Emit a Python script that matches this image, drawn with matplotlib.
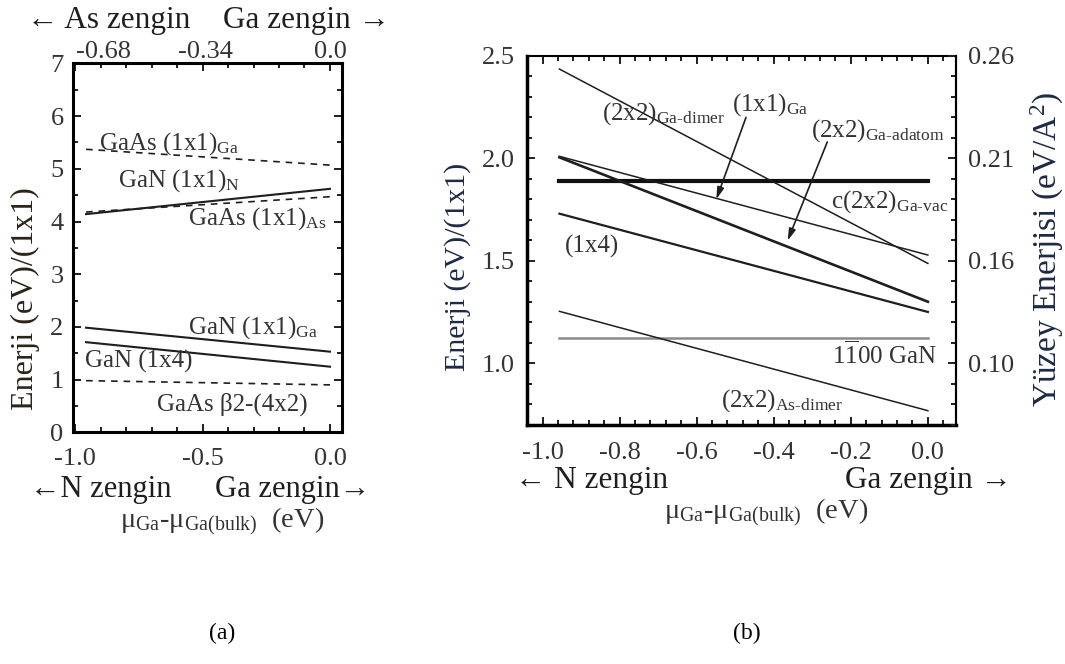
import matplotlib
matplotlib.use('Agg')
import matplotlib.pyplot as plt
from matplotlib.ticker import MultipleLocator

plt.rcParams.update({
    'font.family': ['Liberation Serif', 'DejaVu Serif'],
    'mathtext.fontset': 'custom',
    'mathtext.rm': 'Liberation Serif',
    'mathtext.it': 'Liberation Serif:italic',
    'mathtext.bf': 'Liberation Serif:bold',
    'axes.unicode_minus': False,
})

# ---- panel (a): GaN vs GaAs surfaces ----
a_x = [-0.957, 0.0]
a_gaas_1x1_ga = [5.37, 5.07]
a_gan_1x1_n = [4.14, 4.62]
a_gaas_1x1_as = [4.18, 4.47]
a_gan_1x1_ga = [1.985, 1.53]
a_gan_1x4 = [1.71, 1.245]
a_gaas_b2 = [0.98, 0.90]
a_top_pos = [-0.89, -0.49, 0.0]
a_top_labels = ['-0.68', '-0.34', '0.0']

# ---- panel (b): GaN (1-100) surfaces ----
b_x = [-0.956, 0.0]
b_flat = [1.89, 1.89]
b_ga_dimer = [2.436, 1.487]
b_ga_vac = [2.01, 1.528]
b_ga_adatom = [2.005, 1.30]
b_1x4 = [1.73, 1.25]
b_gan_1100 = [1.123, 1.123]
b_as_dimer = [1.253, 0.768]
b_right_ticks = [1.0, 1.5, 2.0, 2.5]
b_right_labels = ['0.10', '0.16', '0.21', '0.26']

W, H = 1065, 664
ink = '#1e1e1e'
txt = '#333333'
lab = '#2a2418'
navy = '#1d2a45'

fig = plt.figure(figsize=(W / 100, H / 100), dpi=100)


def fx(px):
    return px / W


def fy(py):
    return 1 - py / H


def style_axis(ax, xpad, ypad):
    ax.tick_params(which='both', direction='in', top=True, width=1.4,
                   labelsize=19, labelcolor=txt, color=ink)
    ax.tick_params(which='major', length=6)
    ax.tick_params(which='minor', length=3.5)
    ax.tick_params(axis='x', pad=xpad)
    ax.tick_params(axis='y', pad=ypad)


# panel (a)
ax1 = fig.add_axes([fx(73.3), fy(432.3), (341.7 - 73.3) / W, (432.3 - 63.4) / H])
dash = dict(color=ink, lw=1.2, dashes=(4, 3.5))
solid = dict(color=ink, lw=1.5)
ax1.plot(a_x, a_gaas_1x1_ga, **dash)
ax1.plot(a_x, a_gan_1x1_n, **solid)
ax1.plot(a_x, a_gaas_1x1_as, **dash)
ax1.plot(a_x, a_gan_1x1_ga, **solid)
ax1.plot(a_x, a_gan_1x4, **solid)
ax1.plot(a_x, a_gaas_b2, **dash)
ax1.set_xlim(-1.007, 0.046)
ax1.set_ylim(0, 7)
ax1.xaxis.set_major_locator(MultipleLocator(0.5))
ax1.xaxis.set_minor_locator(MultipleLocator(0.1))
ax1.yaxis.set_major_locator(MultipleLocator(1))
ax1.yaxis.set_minor_locator(MultipleLocator(0.5))
style_axis(ax1, 11, 7)
ax1.tick_params(which='both', right=True)
for s in ax1.spines.values():
    s.set_linewidth(2.2)
for p, l in zip(a_top_pos, a_top_labels):
    ax1.text(p, 1.0, l, transform=ax1.get_xaxis_transform(), ha='center',
             va='bottom', fontsize=19, color=txt)

fs = 18
ax1.text(-0.905, 5.36, 'GaAs (1x1)$_{\\mathrm{Ga}}$', fontsize=fs, color=txt, va='baseline')
ax1.text(-0.83, 4.67, 'GaN (1x1)$_{\\mathrm{N}}$', fontsize=fs, color=txt, va='baseline')
ax1.text(-0.556, 3.95, 'GaAs (1x1)$_{\\mathrm{As}}$', fontsize=fs, color=txt, va='baseline')
ax1.text(-0.556, 1.88, 'GaN (1x1)$_{\\mathrm{Ga}}$', fontsize=fs, color=txt, va='baseline')
ax1.text(-0.96, 1.23, 'GaN (1x4)', fontsize=fs, color=txt, va='baseline')
ax1.text(-0.68, 0.42, 'GaAs β2-(4x2)', fontsize=fs, color=txt, va='baseline')

# panel (b)
ax2 = fig.add_axes([fx(526.7), fy(425), (956 - 526.7) / W, (425 - 56) / H])
ax2.plot(b_x, b_flat, color='#111111', lw=3.0)
ax2.plot(b_x, b_ga_dimer, color=ink, lw=1.1)
ax2.plot(b_x, b_ga_vac, color=ink, lw=1.1)
ax2.plot(b_x, b_ga_adatom, color=ink, lw=1.9)
ax2.plot(b_x, b_1x4, color=ink, lw=1.6)
ax2.plot(b_x, b_gan_1100, color='#8a8a8a', lw=1.8)
ax2.plot(b_x, b_as_dimer, color=ink, lw=1.1)
ax2.set_xlim(-1.041, 0.073)
ax2.set_ylim(0.698, 2.5)
ax2.xaxis.set_major_locator(MultipleLocator(0.2))
ax2.xaxis.set_minor_locator(MultipleLocator(0.04))
ax2.yaxis.set_major_locator(MultipleLocator(0.5))
ax2.yaxis.set_minor_locator(MultipleLocator(0.1))
style_axis(ax2, 12, 8.5)
ax2.tick_params(which='both', right=False)
ax2.spines['left'].set_linewidth(2.5)
ax2.spines['bottom'].set_linewidth(2.5)
ax2.spines['top'].set_linewidth(1.5)
ax2.spines['right'].set_linewidth(1.5)

ax2r = ax2.twinx()
ax2r.set_ylim(ax2.get_ylim())
ax2r.set_yticks(b_right_ticks)
ax2r.set_yticklabels(b_right_labels)
ax2r.yaxis.set_minor_locator(MultipleLocator(0.1))
ax2r.tick_params(which='both', direction='in', width=1.4, labelsize=19,
                 labelcolor=txt, color=ink, pad=8.5)
ax2r.tick_params(which='major', length=6)
ax2r.tick_params(which='minor', length=3.5)
for k in ['left', 'top', 'bottom']:
    ax2r.spines[k].set_visible(False)
ax2r.spines['right'].set_linewidth(1.5)

ax2.text(-0.845, 2.19, '(2x2)$_{\\mathrm{Ga\\text{-}dimer}}$', fontsize=fs, color=txt, va='baseline')
ax2.text(-0.507, 2.235, '(1x1)$_{\\mathrm{Ga}}$', fontsize=fs, color=txt, va='baseline')
ax2.text(-0.304, 2.105, '(2x2)$_{\\mathrm{Ga\\text{-}adatom}}$', fontsize=fs, color=txt, va='baseline')
ax2.text(-0.252, 1.761, 'c(2x2)$_{\\mathrm{Ga\\text{-}vac}}$', fontsize=fs, color=txt, va='baseline')
ax2.text(-0.943, 1.541, '(1x4)', fontsize=fs, color=txt, va='baseline')
ax2.text(-0.249, 1.0, '1$\\overline{\\mathrm{1}}$00 GaN', fontsize=fs, color=txt, va='baseline')
ax2.text(-0.537, 0.79, '(2x2)$_{\\mathrm{As\\text{-}dimer}}$', fontsize=fs, color=txt, va='baseline')

arrow = dict(arrowstyle='-|>,head_length=0.7,head_width=0.2', color=ink, lw=1.2,
             shrinkA=0, shrinkB=0)
ax2.annotate('', xy=(-0.549, 1.80), xytext=(-0.472, 2.20), arrowprops=arrow)
ax2.annotate('', xy=(-0.364, 1.598), xytext=(-0.261, 2.08), arrowprops=arrow)

# axis titles and side annotations
fig.text(fx(27), fy(28), '← As zengin', fontsize=22.5, color=ink, va='baseline', ha='left')
fig.text(fx(390), fy(28), 'Ga zengin →', fontsize=22.5, color=ink, va='baseline', ha='right')
fig.text(fx(30), fy(497), '←N zengin', fontsize=22, color=ink, va='baseline', ha='left')
fig.text(fx(370), fy(497), 'Ga zengin→', fontsize=22, color=ink, va='baseline', ha='right')
fig.text(fx(222), fy(522), 'μ$_{\\mathrm{Ga}}$-μ$_{\\mathrm{Ga(bulk)}}$  (eV)', fontsize=20.5,
         color=txt, ha='center', va='center')
fig.text(fx(515), fy(488), '← N zengin', fontsize=22.5, color=ink, va='baseline', ha='left')
fig.text(fx(1012), fy(488), 'Ga zengin →', fontsize=22.5, color=ink, va='baseline', ha='right')
fig.text(fx(766), fy(513), 'μ$_{\\mathrm{Ga}}$-μ$_{\\mathrm{Ga(bulk)}}$  (eV)', fontsize=20.5,
         color=txt, ha='center', va='center')

fig.text(fx(25), fy(299), 'Enerji (eV)/(1x1)', fontsize=23, color=lab, rotation=90,
         ha='center', va='center')
fig.text(fx(458), fy(267), 'Enerji (eV)/(1x1)', fontsize=21.5, color=navy, rotation=90,
         ha='center', va='center')
fig.text(fx(1047), fy(249), 'Yüzey Enerjisi (eV/A$^{2}$)', fontsize=24, color=navy,
         rotation=90, ha='center', va='center')

fig.text(fx(222), fy(633), '(a)', fontsize=17, color='black', ha='center', va='center')
fig.text(fx(747), fy(633), '(b)', fontsize=17, color='black', ha='center', va='center')

fig.savefig('out.png', dpi=100)
